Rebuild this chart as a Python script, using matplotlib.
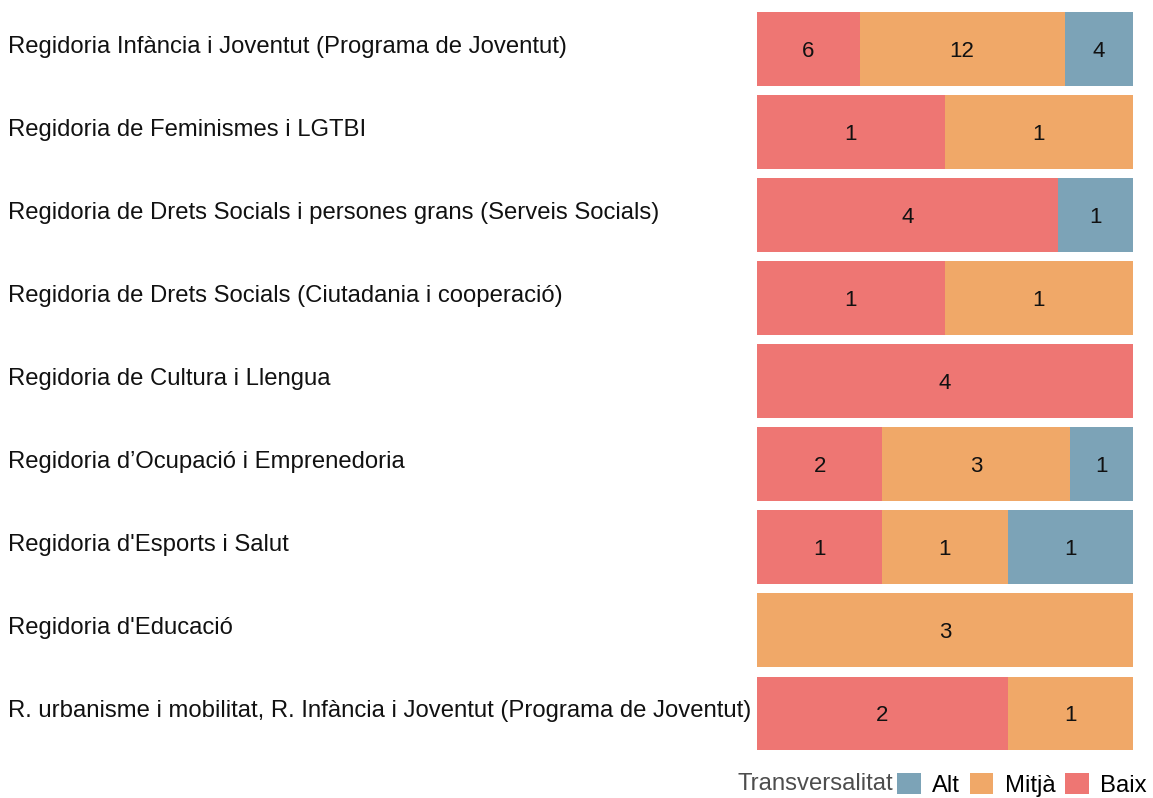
import matplotlib.pyplot as plt
import matplotlib.transforms as mtransforms
from matplotlib.patches import Patch
import numpy as np

plt.rcParams['font.family'] = ['Liberation Sans', 'DejaVu Sans']

# Data (top to bottom)
categories = [
    "Regidoria Infància i Joventut (Programa de Joventut)",
    "Regidoria de Feminismes i LGTBI",
    "Regidoria de Drets Socials i persones grans (Serveis Socials)",
    "Regidoria de Drets Socials (Ciutadania i cooperació)",
    "Regidoria de Cultura i Llengua",
    "Regidoria d\u2019Ocupació i Emprenedoria",
    "Regidoria d'Esports i Salut",
    "Regidoria d'Educació",
    "R. urbanisme i mobilitat, R. Infància i Joventut (Programa de Joventut)",
]
baix = [6, 1, 4, 1, 4, 2, 1, 0, 2]
mitja = [12, 1, 0, 1, 0, 3, 1, 3, 1]
alt = [4, 0, 1, 0, 0, 1, 1, 0, 0]

levels = ["Baix", "Mitjà", "Alt"]
colors = {"Baix": "#EE7673", "Mitjà": "#F0A868", "Alt": "#7CA3B7"}

W, H = 1153, 798
fig = plt.figure(figsize=(W / 100, H / 100), dpi=100)
ax = fig.add_axes([757 / W, 1 - 755 / H, (1133 - 757) / W, (755 - 7.5) / H])

counts = np.array([baix, mitja, alt], dtype=float)
totals = counts.sum(axis=0)
shares = counts / totals
y = np.arange(len(categories))

left = np.zeros(len(categories))
for i, lvl in enumerate(levels):
    ax.barh(y, shares[i], left=left, height=0.89, color=colors[lvl], edgecolor='none')
    for j in range(len(categories)):
        if counts[i, j] > 0:
            ax.text(left[j] + shares[i, j] / 2, y[j] + 0.03, f"{int(counts[i, j])}",
                    ha='center', va='center', fontsize=16, color='#111111')
    left += shares[i]

ax.set_xlim(0, 1)
ax.set_ylim(len(categories) - 0.5, -0.5)
ax.axis('off')

trans = mtransforms.blended_transform_factory(fig.transFigure, ax.transData)
for j, cat in enumerate(categories):
    fig.text(8 / W, y[j] - 0.03, cat, transform=trans, ha='left', va='center',
             fontsize=17.2, color='#111111')

# Legend
fig.text(893 / W, 1 - 784 / H, "Transversalitat", ha='right', va='center',
         fontsize=17.2, color='#4d4d4d')
handles = [Patch(facecolor=colors[l], edgecolor='none') for l in ["Alt", "Mitjà", "Baix"]]
fig.legend(handles, ["Alt", "Mitjà", "Baix"], ncol=3, loc='center left',
           bbox_to_anchor=(897 / W, 1 - 785 / H), frameon=False, fontsize=17.2,
           handlelength=1.0, handleheight=1.0, handletextpad=0.47,
           columnspacing=0.4, borderpad=0, borderaxespad=0)

plt.savefig("out.png", dpi=100)
